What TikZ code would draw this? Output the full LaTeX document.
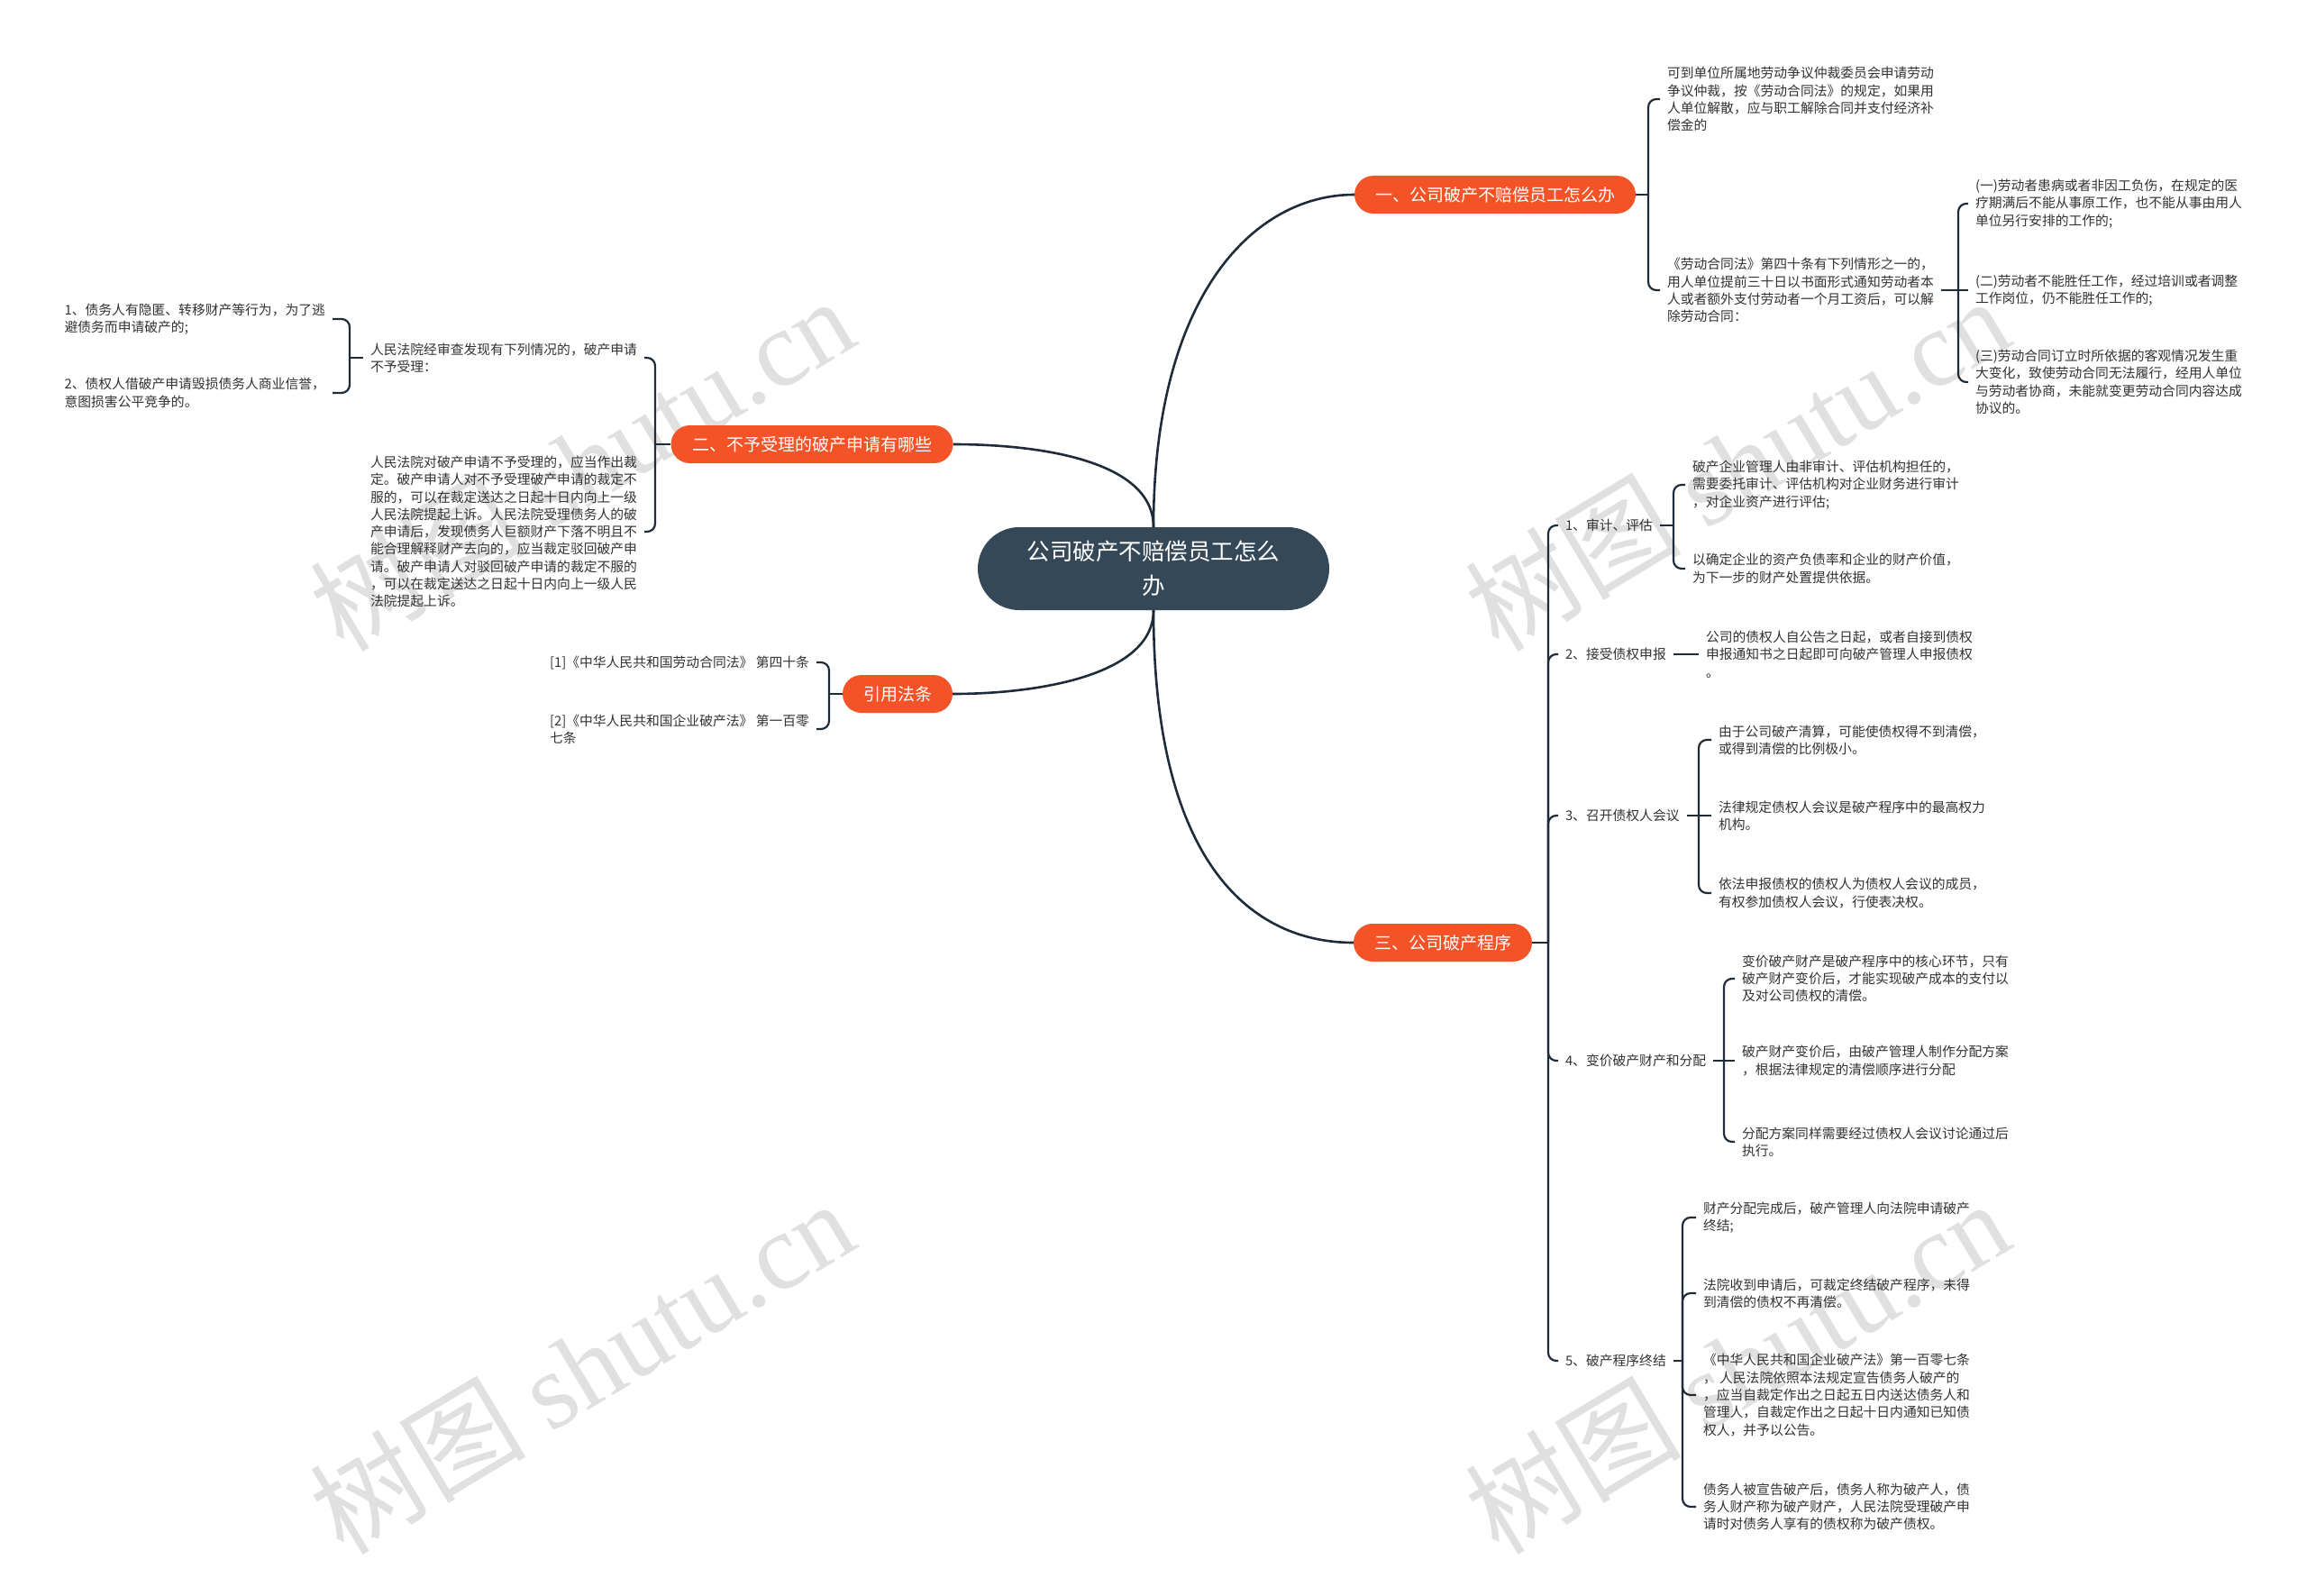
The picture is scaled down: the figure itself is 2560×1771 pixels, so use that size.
\documentclass[tikz,border=0pt]{standalone}
\usepackage{fontspec}
\setmainfont{Noto Sans CJK SC}
\newfontfamily\wmlatin{Liberation Serif}
\definecolor{orangec}{RGB}{244,83,40}
\definecolor{darkc}{RGB}{53,72,88}
\definecolor{linec}{RGB}{30,44,58}
\definecolor{txtc}{RGB}{50,50,50}
\definecolor{wmc}{RGB}{224,224,224}
\begin{document}
\begin{tikzpicture}[x=1pt,y=-1pt,
 mainnode/.style={fill=orangec,text=white,rounded corners=21pt,minimum height=42pt,inner xsep=23pt,inner ysep=0pt,font=\fontsize{19}{23}\selectfont},
 rootnode/.style={fill=darkc,text=white,rounded corners=46pt,minimum height=92pt,minimum width=390pt,align=center,font=\fontsize{25.5}{38}\selectfont},
 txt/.style={inner sep=0pt,outer xsep=8pt,align=left,text=txtc,font=\fontsize{14.8}{19.3}\selectfont},
 conn/.style={draw=linec,line width=2.6pt},
 bracel/.style={draw=linec,line width=2.2pt,rounded corners=9pt},
 wm/.style={text=wmc,rotate=31,font=\fontsize{120}{120}\selectfont,inner sep=0pt}
]
\fill[white] (0,0) rectangle (2560,1771);
\useasboundingbox (0,0) rectangle (2560,1771);

% watermarks
\node[wm] (wm1) at (645,514) {树图 {\wmlatin shutu.cn}};
\node[wm] (wm2) at (1927,514) {树图 {\wmlatin shutu.cn}};
\node[wm] (wm3) at (645,1516) {树图 {\wmlatin shutu.cn}};
\node[wm] (wm4) at (1927,1516) {树图 {\wmlatin shutu.cn}};

% root and main branches
\node[rootnode] (root) at (1280,631) {公司破产不赔偿员工怎么\\办};
\node[mainnode,minimum width=312pt] (n1) at (1659,216) {一、公司破产不赔偿员工怎么办};
\node[mainnode,minimum width=313pt] (n2) at (901,493) {二、不予受理的破产申请有哪些};
\node[mainnode,minimum width=198pt] (n3) at (1601,1046) {三、公司破产程序};
\node[mainnode,minimum width=121pt] (n4) at (996,770) {引用法条};

\draw[conn] (root.north) .. controls (1280,330) and (1390,216) .. (n1.west);
\draw[conn] (root.north) .. controls (1280,510) and (1150,493) .. (n2.east);
\draw[conn] (root.south) .. controls (1280,750) and (1150,770) .. (n4.east);
\draw[conn] (root.south) .. controls (1280,960) and (1390,1046) .. (n3.west);

% section 1
\coordinate (j1) at (1829,216);
\node[txt,anchor=west] (a1) at (1842,110) {可到单位所属地劳动争议仲裁委员会申请劳动\\争议仲裁，按《劳动合同法》的规定，如果用\\人单位解散，应与职工解除合同并支付经济补\\偿金的};
\node[txt,anchor=west] (a2) at (1842,322) {《劳动合同法》第四十条有下列情形之一的，\\用人单位提前三十日以书面形式通知劳动者本\\人或者额外支付劳动者一个月工资后，可以解\\除劳动合同：};
\draw[conn] (n1.east) -- (j1);
\draw[bracel] (j1) |- (a1.west);
\draw[bracel] (j1) |- (a2.west);

\coordinate (jb) at (2173,322);
\node[txt,anchor=west] (b1) at (2184,226) {(一)劳动者患病或者非因工负伤，在规定的医\\疗期满后不能从事原工作，也不能从事由用人\\单位另行安排的工作的;};
\node[txt,anchor=west] (b2) at (2184,322) {(二)劳动者不能胜任工作，经过培训或者调整\\工作岗位，仍不能胜任工作的;};
\node[txt,anchor=west] (b3) at (2184,424) {(三)劳动合同订立时所依据的客观情况发生重\\大变化，致使劳动合同无法履行，经用人单位\\与劳动者协商，未能就变更劳动合同内容达成\\协议的。};
\draw[bracel] (a2.east) -- (jb);
\draw[bracel] (jb) |- (b1.west);
\draw[bracel] (jb) -- (b2.west);
\draw[bracel] (jb) |- (b3.west);

% section 2
\coordinate (j2) at (727,493);
\node[txt,anchor=east] (c1) at (715,397) {人民法院经审查发现有下列情况的，破产申请\\不予受理：};
\node[txt,anchor=east] (c2) at (715,590) {人民法院对破产申请不予受理的，应当作出裁\\定。破产申请人对不予受理破产申请的裁定不\\服的，可以在裁定送达之日起十日内向上一级\\人民法院提起上诉。人民法院受理债务人的破\\产申请后，发现债务人巨额财产下落不明且不\\能合理解释财产去向的，应当裁定驳回破产申\\请。破产申请人对驳回破产申请的裁定不服的\\，可以在裁定送达之日起十日内向上一级人民\\法院提起上诉。};
\draw[conn] (n2.west) -- (j2);
\draw[bracel] (j2) |- (c1.east);
\draw[bracel] (j2) |- (c2.east);

\coordinate (jc) at (388,397);
\node[txt,anchor=east] (g1) at (369,354) {1、债务人有隐匿、转移财产等行为，为了逃\\避债务而申请破产的;};
\node[txt,anchor=east] (g2) at (369,436) {2、债权人借破产申请毁损债务人商业信誉，\\意图损害公平竞争的。};
\draw[bracel] (c1.west) -- (jc);
\draw[bracel] (jc) |- (g1.east);
\draw[bracel] (jc) |- (g2.east);

% citations
\coordinate (j4) at (920,770);
\node[txt,anchor=east] (r1) at (906,735) {[1]《中华人民共和国劳动合同法》 第四十条};
\node[txt,anchor=east] (r2) at (906,809) {[2]《中华人民共和国企业破产法》 第一百零\\七条};
\draw[conn] (n4.west) -- (j4);
\draw[bracel] (j4) |- (r1.east);
\draw[bracel] (j4) |- (r2.east);

% section 3
\coordinate (j3) at (1718,1046);
\node[txt,anchor=west] (s1) at (1729,583) {1、审计、评估};
\node[txt,anchor=west] (s2) at (1729,726) {2、接受债权申报};
\node[txt,anchor=west] (s3) at (1729,905) {3、召开债权人会议};
\node[txt,anchor=west] (s4) at (1729,1177) {4、变价破产财产和分配};
\node[txt,anchor=west] (s5) at (1729,1510) {5、破产程序终结};
\draw[conn] (n3.east) -- (j3);
\foreach \s in {s1,s2,s3,s4,s5} { \draw[bracel] (j3) |- (\s.west); }

\coordinate (js1) at (1857,583);
\node[txt,anchor=west] (s1a) at (1870,538) {破产企业管理人由非审计、评估机构担任的，\\需要委托审计、评估机构对企业财务进行审计\\，对企业资产进行评估;};
\node[txt,anchor=west] (s1b) at (1870,631) {以确定企业的资产负债率和企业的财产价值，\\为下一步的财产处置提供依据。};
\draw[bracel] (s1.east) -- (js1);
\draw[bracel] (js1) |- (s1a.west);
\draw[bracel] (js1) |- (s1b.west);

\node[txt,anchor=west] (s2a) at (1885,726) {公司的债权人自公告之日起，或者自接到债权\\申报通知书之日起即可向破产管理人申报债权\\。};
\draw[bracel] (s2.east) -- (s2a.west);

\coordinate (js3) at (1885,905);
\node[txt,anchor=west] (s3a) at (1899,821) {由于公司破产清算，可能使债权得不到清偿，\\或得到清偿的比例极小。};
\node[txt,anchor=west] (s3b) at (1899,905) {法律规定债权人会议是破产程序中的最高权力\\机构。};
\node[txt,anchor=west] (s3c) at (1899,991) {依法申报债权的债权人为债权人会议的成员，\\有权参加债权人会议，行使表决权。};
\draw[bracel] (s3.east) -- (js3);
\draw[bracel] (js3) |- (s3a.west);
\draw[bracel] (js3) -- (s3b.west);
\draw[bracel] (js3) |- (s3c.west);

\coordinate (js4) at (1913,1177);
\node[txt,anchor=west] (s4a) at (1925,1086) {变价破产财产是破产程序中的核心环节，只有\\破产财产变价后，才能实现破产成本的支付以\\及对公司债权的清偿。};
\node[txt,anchor=west] (s4b) at (1925,1177) {破产财产变价后，由破产管理人制作分配方案\\，根据法律规定的清偿顺序进行分配};
\node[txt,anchor=west] (s4c) at (1925,1267) {分配方案同样需要经过债权人会议讨论通过后\\执行。};
\draw[bracel] (s4.east) -- (js4);
\draw[bracel] (js4) |- (s4a.west);
\draw[bracel] (js4) -- (s4b.west);
\draw[bracel] (js4) |- (s4c.west);

\coordinate (js5) at (1867,1510);
\node[txt,anchor=west] (s5a) at (1882,1351) {财产分配完成后，破产管理人向法院申请破产\\终结;};
\node[txt,anchor=west] (s5b) at (1882,1435) {法院收到申请后，可裁定终结破产程序，未得\\到清偿的债权不再清偿。};
\node[txt,anchor=west] (s5c) at (1882,1548) {《中华人民共和国企业破产法》第一百零七条\\， 人民法院依照本法规定宣告债务人破产的\\，应当自裁定作出之日起五日内送达债务人和\\管理人，自裁定作出之日起十日内通知已知债\\权人，并予以公告。};
\node[txt,anchor=west] (s5d) at (1882,1672) {债务人被宣告破产后，债务人称为破产人，债\\务人财产称为破产财产，人民法院受理破产申\\请时对债务人享有的债权称为破产债权。};
\draw[bracel] (s5.east) -- (js5);
\foreach \s in {s5a,s5b,s5c,s5d} { \draw[bracel] (js5) |- (\s.west); }
\end{tikzpicture}
\end{document}
